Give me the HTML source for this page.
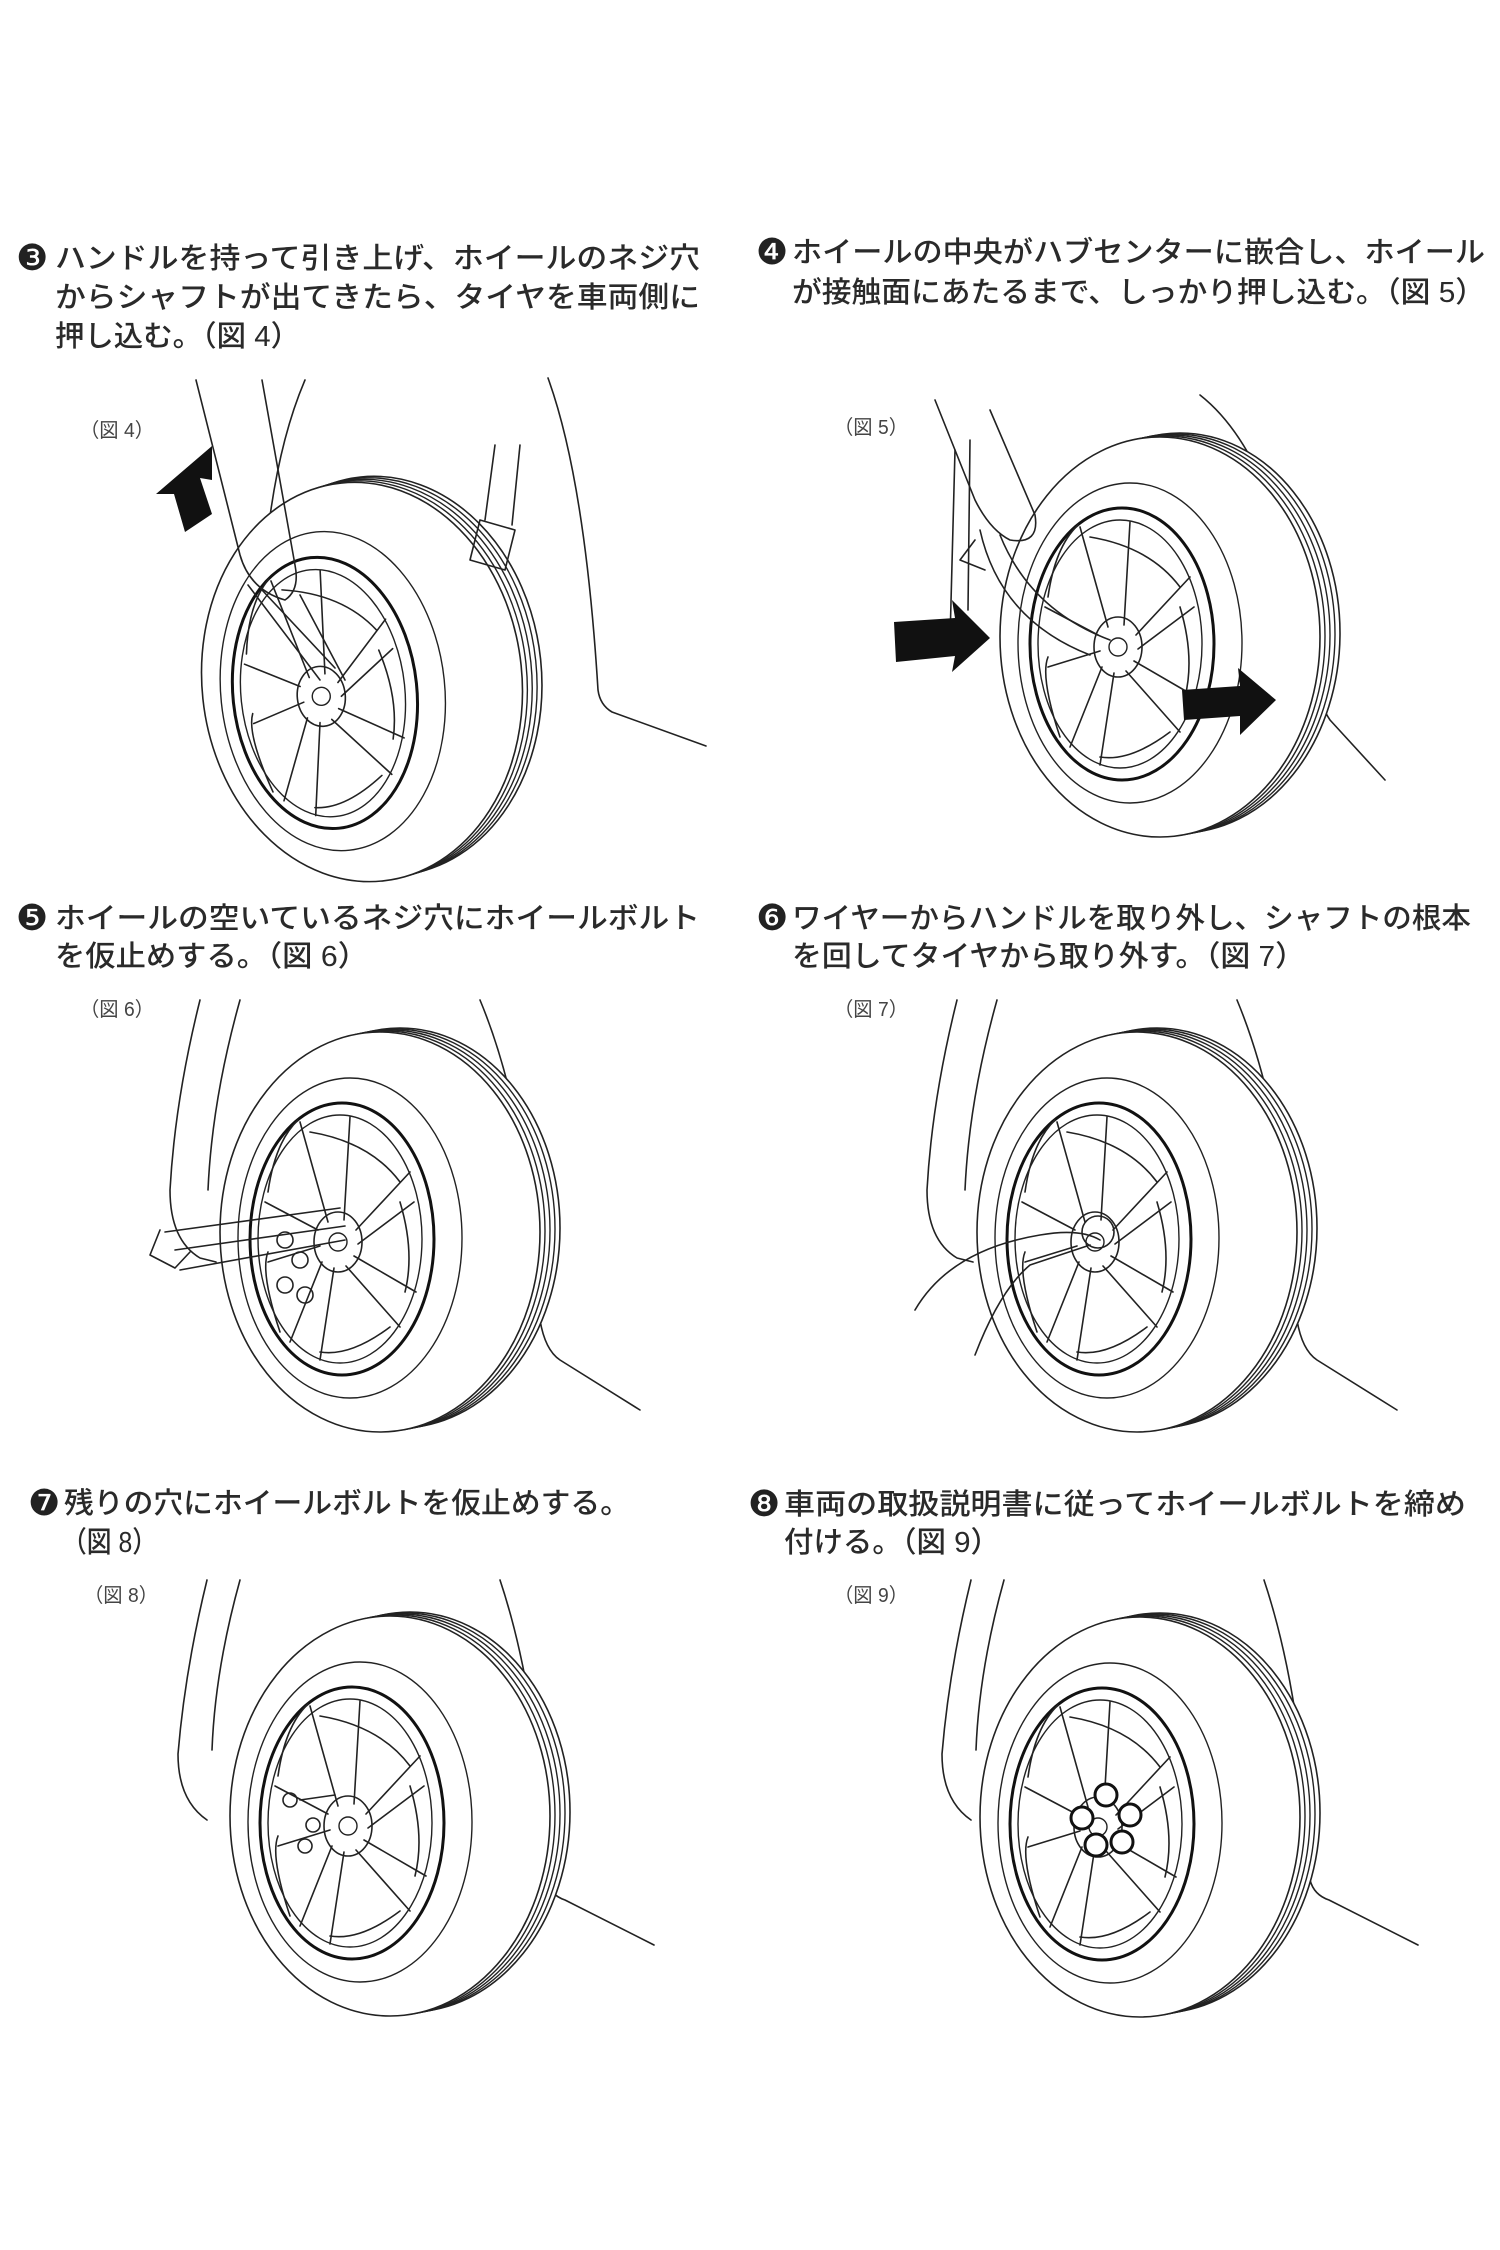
<!DOCTYPE html>
<html><head><meta charset="utf-8"><style>
html,body{margin:0;padding:0;background:#fff;}
svg{display:block;}
.t{font-family:"Liberation Sans","Noto Sans CJK JP",sans-serif;font-size:29px;fill:#2a2a2a;font-weight:500;}
.n{font-family:"DejaVu Sans","Noto Sans CJK JP",sans-serif;font-size:36px;fill:#222;}
.f{font-family:"Liberation Sans","Noto Sans CJK JP",sans-serif;font-size:20px;fill:#444;}
.l{fill:none;stroke:#222;stroke-width:1.6;stroke-linecap:round;stroke-linejoin:round;}
</style></head><body>
<svg width="1500" height="2250" viewBox="0 0 1500 2250" xmlns="http://www.w3.org/2000/svg">
<defs>
<g id="wheel">
  <ellipse cx="20" cy="-4" rx="160" ry="200" fill="#fff" stroke="#222" stroke-width="1.6"/>
  <ellipse cx="15" cy="-3" rx="160" ry="200" fill="#fff" stroke="#222" stroke-width="1.4"/>
  <ellipse cx="10" cy="-2" rx="160" ry="200" fill="#fff" stroke="#222" stroke-width="1.4"/>
  <ellipse cx="5" cy="-1" rx="160" ry="200" fill="#fff" stroke="#222" stroke-width="1.4"/>
  <ellipse cx="0" cy="0" rx="160" ry="200" fill="#fff" stroke="#222" stroke-width="1.6"/>
  <ellipse cx="-30" cy="6" rx="112" ry="160" fill="none" stroke="#222" stroke-width="1.4"/>
  <ellipse cx="-38" cy="7" rx="92" ry="136" fill="#fff" stroke="#111" stroke-width="3"/>
  <ellipse cx="-40" cy="7" rx="82" ry="124" fill="none" stroke="#222" stroke-width="1.4"/>
  <g class="l">
    <path d="M-52 -10 L-80 -110 M-36 -12 L-30 -115"/>
    <path d="M-24 -2 L30 -60 M-22 12 L34 -30"/>
    <path d="M-26 24 L36 60 M-34 34 L20 95"/>
    <path d="M-46 36 L-60 128 M-58 30 L-90 110"/>
    <path d="M-60 14 L-112 30 M-62 -2 L-115 -30"/>
    <path d="M-70 -100 Q-10 -90 20 -50 M20 -30 Q35 20 25 60 M10 95 Q-30 125 -60 120 M-100 100 Q-120 40 -112 20 M-112 -40 Q-105 -90 -82 -112"/>
  </g>
  <ellipse cx="-42" cy="10" rx="24" ry="30" fill="none" stroke="#222" stroke-width="1.6"/>
  <circle cx="-42" cy="10" r="9" fill="none" stroke="#222" stroke-width="1.4"/>
</g>
</defs>

<text class="n" x="16" y="270">❸</text>
<text class="t" x="55" y="268" textLength="645" lengthAdjust="spacingAndGlyphs">ハンドルを持って引き上げ、ホイールのネジ穴</text>
<text class="t" x="55" y="307" textLength="645" lengthAdjust="spacingAndGlyphs">からシャフトが出てきたら、タイヤを車両側に</text>
<text class="t" x="55" y="346" textLength="245" lengthAdjust="spacingAndGlyphs">押し込む。（図 4）</text>

<text class="n" x="756" y="264">❹</text>
<text class="t" x="792" y="262" textLength="693" lengthAdjust="spacingAndGlyphs">ホイールの中央がハブセンターに嵌合し、ホイール</text>
<text class="t" x="792" y="302" textLength="693" lengthAdjust="spacingAndGlyphs">が接触面にあたるまで、しっかり押し込む。（図 5）</text>

<text class="n" x="16" y="930">❺</text>
<text class="t" x="55" y="928" textLength="645" lengthAdjust="spacingAndGlyphs">ホイールの空いているネジ穴にホイールボルト</text>
<text class="t" x="55" y="966" textLength="313" lengthAdjust="spacingAndGlyphs">を仮止めする。（図 6）</text>

<text class="n" x="756" y="930">❻</text>
<text class="t" x="792" y="928" textLength="679" lengthAdjust="spacingAndGlyphs">ワイヤーからハンドルを取り外し、シャフトの根本</text>
<text class="t" x="792" y="966" textLength="513" lengthAdjust="spacingAndGlyphs">を回してタイヤから取り外す。（図 7）</text>

<text class="n" x="28" y="1515">❼</text>
<text class="t" x="64" y="1513" textLength="566" lengthAdjust="spacingAndGlyphs">残りの穴にホイールボルトを仮止めする。</text>
<text class="t" x="62" y="1552" textLength="95" lengthAdjust="spacingAndGlyphs">（図 8）</text>

<text class="n" x="748" y="1516">❽</text>
<text class="t" x="784" y="1514" textLength="682" lengthAdjust="spacingAndGlyphs">車両の取扱説明書に従ってホイールボルトを締め</text>
<text class="t" x="784" y="1552" textLength="216" lengthAdjust="spacingAndGlyphs">付ける。（図 9）</text>

<text class="f" x="80" y="437" textLength="74" lengthAdjust="spacingAndGlyphs">（図 4）</text>
<text class="f" x="834" y="434" textLength="74" lengthAdjust="spacingAndGlyphs">（図 5）</text>
<text class="f" x="80" y="1016" textLength="74" lengthAdjust="spacingAndGlyphs">（図 6）</text>
<text class="f" x="834" y="1016" textLength="74" lengthAdjust="spacingAndGlyphs">（図 7）</text>
<text class="f" x="84" y="1602" textLength="74" lengthAdjust="spacingAndGlyphs">（図 8）</text>
<text class="f" x="834" y="1602" textLength="74" lengthAdjust="spacingAndGlyphs">（図 9）</text>

<g class="l">
  <path d="M548 378 Q585 480 598 690 Q600 705 612 712 L706 746"/>
  <path d="M495 445 L485 520 M520 445 L512 525"/>
  <path d="M305 380 Q275 450 265 560"/>
</g>
<use href="#wheel" transform="translate(362,682) rotate(-6)"/>
<g class="l">
  <path d="M196 380 L240 555 Q250 590 285 600 Q300 590 295 565 L262 380"/>
  <path d="M248 585 L320 680 M262 590 L335 668 M300 595 L345 680"/>
  <path d="M480 520 L470 560 L505 570 L515 530 Z"/>
</g>
<polygon points="212,446 156,494 174,494 185,532 212,514 200,478 212,480" fill="#111"/>

<g class="l">
  <path d="M1200 395 Q1270 450 1300 610 Q1310 690 1330 720 L1385 780"/>
  <path d="M955 450 L950 640 M970 440 L968 610"/>
</g>
<use href="#wheel" transform="translate(1160,637)"/>
<g class="l">
  <path d="M935 400 L975 500 Q990 530 1010 540 Q1040 545 1035 515 L990 410"/>
  <path d="M980 530 Q1000 620 1090 655 M1000 535 Q1030 610 1110 640 M975 540 L960 560 L985 570"/>
</g>
<polygon points="894,622 955,618 952,600 990,638 952,672 955,656 896,662" fill="#111"/>
<polygon points="1182,690 1240,686 1238,668 1276,700 1240,735 1240,716 1184,720" fill="#111"/>

<g class="l">
  <path d="M200 1000 Q175 1100 170 1190 Q170 1240 200 1258 L216 1262"/>
  <path d="M240 1000 Q212 1100 208 1190"/>
  <path d="M480 1000 Q530 1120 540 1320 Q545 1350 560 1360 L640 1410"/>
</g>
<use href="#wheel" transform="translate(380,1232)"/>
<g class="l">
  <path d="M165 1232 L340 1208 M175 1250 L345 1226 M160 1230 L150 1255 L175 1268 L190 1252 M180 1270 L345 1240"/>
  <circle cx="285" cy="1240" r="8"/><circle cx="300" cy="1260" r="8"/><circle cx="285" cy="1285" r="8"/><circle cx="305" cy="1295" r="8"/>
</g>

<g class="l">
  <path d="M957 1000 Q932 1100 927 1190 Q927 1240 957 1258 L973 1262"/>
  <path d="M997 1000 Q969 1100 965 1190"/>
  <path d="M1237 1000 Q1287 1120 1297 1320 Q1302 1350 1317 1360 L1397 1410"/>
</g>
<use href="#wheel" transform="translate(1137,1232)"/>
<g class="l" stroke-width="2.4">
  <path d="M915 1310 Q950 1250 1040 1235 Q1080 1228 1100 1240"/>
  <path d="M975 1355 Q1000 1290 1030 1265 L1090 1245"/>
  <circle cx="1098" cy="1232" r="16"/>
</g>

<g class="l">
  <path d="M207 1580 Q185 1670 178 1754 Q178 1800 207 1820"/>
  <path d="M240 1580 Q215 1670 212 1750"/>
  <path d="M500 1580 Q540 1700 546 1880 Q550 1895 565 1900 L654 1945"/>
</g>
<use href="#wheel" transform="translate(390,1816)"/>
<g class="l" stroke-width="2">
  <circle cx="290" cy="1800" r="7"/><circle cx="313" cy="1825" r="7"/><circle cx="305" cy="1846" r="7"/>
  <path d="M300 1800 L335 1795"/>
</g>

<g class="l">
  <path d="M971 1580 Q949 1670 942 1754 Q942 1800 971 1820"/>
  <path d="M1004 1580 Q979 1670 976 1750"/>
  <path d="M1264 1580 Q1304 1700 1310 1880 Q1314 1895 1329 1900 L1418 1945"/>
</g>
<use href="#wheel" transform="translate(1140,1817)"/>
<g fill="#fff" stroke="#111" stroke-width="3">
  <circle cx="1106" cy="1795" r="11"/><circle cx="1130" cy="1815" r="11"/><circle cx="1082" cy="1818" r="11"/><circle cx="1096" cy="1845" r="11"/><circle cx="1122" cy="1842" r="11"/>
</g>
</svg>
</body></html>
